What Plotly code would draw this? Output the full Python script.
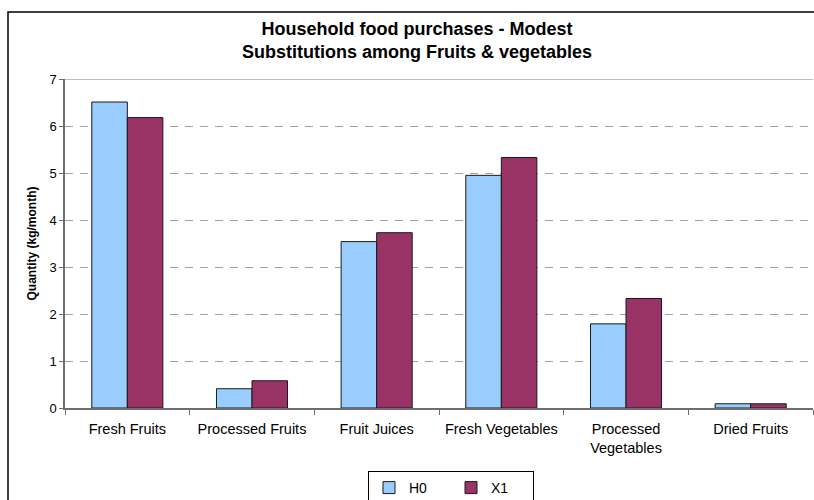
import plotly.graph_objects as go

categories = ["Fresh Fruits", "Processed Fruits", "Fruit Juices",
              "Fresh Vegetables", "Processed<br>Vegetables", "Dried Fruits"]
h0_values = [6.51, 0.41, 3.54, 4.95, 1.79, 0.09]
x1_values = [6.18, 0.58, 3.73, 5.33, 2.33, 0.09]
y_ticks = [0, 1, 2, 3, 4, 5, 6, 7]

W, H = 814, 500
L, R, T, B = 65, 1, 79, 92
pw, ph = W - L - R, H - T - B


def px_x(x):
    return (x - L) / pw


def px_y(y):
    return (H - B - y) / ph


FONT = "Liberation Sans, Arial, sans-serif"

fig = go.Figure()
fig.add_trace(go.Bar(name="H0", x=categories, y=h0_values,
                     marker=dict(color="#99CCFF", line=dict(color="#1a1a1a", width=1))))
fig.add_trace(go.Bar(name="X1", x=categories, y=x1_values,
                     marker=dict(color="#993366", line=dict(color="#1a1a1a", width=1))))

fig.update_layout(
    width=W, height=H,
    margin=dict(l=L, r=R, t=T, b=B, autoexpand=False),
    paper_bgcolor="white", plot_bgcolor="white",
    font=dict(family=FONT, color="black"),
    barmode="group", bargap=0.43, bargroupgap=0,
    title=dict(text="<b>Household food purchases - Modest<br>Substitutions among Fruits &amp; vegetables</b>",
               x=417 / W, xanchor="center", xref="container",
               y=1 - 35 / H, yanchor="top", yref="container",
               font=dict(size=18, family=FONT, color="black")),
    showlegend=True,
    legend=dict(orientation="h", x=px_x(368), xanchor="left",
                y=px_y(471), yanchor="top",
                bordercolor="black", borderwidth=1, bgcolor="white",
                font=dict(size=14, family=FONT), entrywidth=37,
                itemwidth=30),
    xaxis=dict(showline=True, linecolor="#6e6e6e", linewidth=1.5,
               ticks="outside", tickson="boundaries", ticklen=5, tickcolor="#6e6e6e",
               tickfont=dict(size=14.5, family=FONT, color="black"),
               ticklabelstandoff=7,
               showgrid=False, fixedrange=True),
    yaxis=dict(range=[0, 7], tickvals=y_ticks, showline=True, linecolor="#6e6e6e",
               linewidth=1.5, ticks="outside", ticklen=4, tickcolor="#6e6e6e",
               tickfont=dict(size=13, family=FONT, color="black"),
               showgrid=True, gridcolor="#a0a0a0", griddash="8px,7px", gridwidth=1,
               zeroline=False,
               title=dict(text="<b>Quantity (kg/month)</b>", standoff=10,
                          font=dict(size=12, family=FONT, color="black")),
               fixedrange=True),
)

# solid top edge of the plotting area
fig.add_shape(type="line", xref="paper", yref="y", x0=0, x1=1, y0=7, y1=7,
              line=dict(color="#808080", width=1))
# outer chart frame
fig.add_shape(type="rect", xref="paper", yref="paper",
              x0=px_x(8), x1=px_x(830), y0=px_y(520), y1=px_y(12),
              line=dict(color="black", width=1.5), layer="below")

fig.write_html("out.html")
